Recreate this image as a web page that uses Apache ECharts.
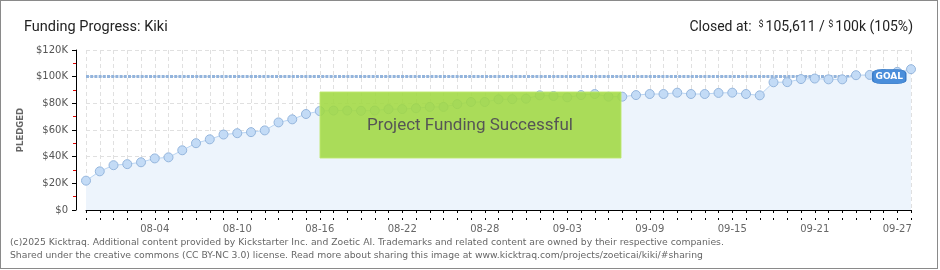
<!DOCTYPE html>
<html><head><meta charset="utf-8">
<script src="https://cdn.jsdelivr.net/npm/echarts@6/dist/echarts.min.js"></script>
<style>
html,body{margin:0;padding:0;background:#fff}
#wrap{position:relative;width:940px;height:270px}
#c{width:940px;height:270px}
#b{position:absolute;left:0;top:0;width:938px;height:269px;box-sizing:border-box;border:1px solid #8a8a8a;pointer-events:none}
</style>
</head><body>
<div id="wrap"><div id="c"></div><div id="b"></div></div>
<script>
const days = ['07-30','07-31',
 '08-01','08-02','08-03','08-04','08-05','08-06','08-07','08-08','08-09','08-10',
 '08-11','08-12','08-13','08-14','08-15','08-16','08-17','08-18','08-19','08-20',
 '08-21','08-22','08-23','08-24','08-25','08-26','08-27','08-28','08-29','08-30','08-31',
 '09-01','09-02','09-03','09-04','09-05','09-06','09-07','09-08','09-09','09-10',
 '09-11','09-12','09-13','09-14','09-15','09-16','09-17','09-18','09-19','09-20',
 '09-21','09-22','09-23','09-24','09-25','09-26','09-27','09-28'];
const pledged = [22000,29000,33600,34400,35800,38700,39500,44800,50100,53000,
 56600,57600,58400,59700,65700,68000,72000,74200,74600,74600,
 74400,74600,75600,75700,76300,77300,77300,79400,81000,81000,
 83000,83100,83500,86000,85500,84500,86200,87000,85000,85000,
 86200,87000,87000,88000,87000,87000,87800,88000,87000,86000,
 95800,95900,98200,98600,98000,98000,101100,101300,102000,103600,105611];
const goal = 100000;
const goalLabelDay = '09-27';
const xLabelDays = ['08-04','08-10','08-16','08-22','08-28','09-03','09-09','09-15','09-21','09-27'];
const yTickLabels = {0:'$0',20000:'$20K',40000:'$40K',60000:'$60K',80000:'$80K',100000:'$100K',120000:'$120K'};
const titleText = 'Funding Progress: Kiki';
const closedText = ['Closed at:  ','$','105,611 / ','$','100k (105%)'];
const successText = 'Project Funding Successful';
const footer1 = '(c)2025 Kicktraq. Additional content provided by Kickstarter Inc. and Zoetic AI. Trademarks and related content are owned by their respective companies.';
const footer2 = 'Shared under the creative commons (CC BY-NC 3.0) license. Read more about sharing this image at www.kicktraq.com/projects/zoeticai/kiki/#sharing';

const chart = echarts.init(document.getElementById('c'), null, {renderer:'canvas'});
const pixFont = 'DejaVu Sans';
const option = {
  animation:false,
  title:[
    {text:titleText,left:19,top:15,textStyle:{fontFamily:'Roboto',fontSize:14.5,fontWeight:'normal',color:'#222'}},
    {text:'{a|'+closedText[0]+'}{s|'+closedText[1]+'}{a|'+closedText[2]+'}{s|'+closedText[3]+'}{a|'+closedText[4]+'}',
     right:22,top:15,
     textStyle:{fontWeight:'normal',rich:{
       a:{fontFamily:'Roboto',fontSize:14,color:'#222',fontWeight:'normal'},
       s:{fontFamily:'Roboto',fontSize:9,color:'#222',fontWeight:'normal',verticalAlign:'top',padding:[0,2,6,0]}
     }}}
  ],
  grid:{left:86,right:29,top:50,bottom:60,containLabel:false},
  xAxis:[{
    type:'category',data:days,boundaryGap:false,offset:10,
    axisLine:{lineStyle:{color:'#000',width:1}},
    axisTick:{show:true,interval:0,length:3,lineStyle:{color:'#000'}},
    axisLabel:{interval:(i,v)=>xLabelDays.indexOf(v)>=0,margin:4,color:'#666',fontFamily:pixFont,fontSize:10},
    splitLine:{show:true,interval:0,lineStyle:{color:'#e0e0e0',type:[4,3]}}
  },{
    type:'category',data:days,boundaryGap:false,offset:10,position:'bottom',
    axisLine:{show:false},
    axisTick:{show:true,inside:true,interval:0,length:2,lineStyle:{color:'#000'}},
    axisLabel:{show:false},splitLine:{show:false}
  }],
  yAxis:{
    type:'value',min:0,max:120000,interval:20000,offset:10,
    name:'PLEDGED',nameLocation:'middle',nameGap:46,nameRotate:90,
    nameTextStyle:{color:'#666',fontFamily:pixFont,fontSize:8.5,fontWeight:'bold'},
    axisLine:{show:true,lineStyle:{color:'#000'}},
    axisTick:{show:true,length:4,lineStyle:{color:'#000'}},
    minorTick:{show:true,splitNumber:2,length:3,lineStyle:{color:'#e00000'}},
    axisLabel:{margin:8,color:'#555',fontFamily:pixFont,fontSize:10,formatter:v=>yTickLabels[v]},
    splitLine:{show:true,lineStyle:{color:'#e0e0e0',type:[4,3]}}
  },
  series:[{
    type:'line',data:pledged,
    symbol:'circle',symbolSize:9,
    itemStyle:{color:'#c3dbf6',borderColor:'#95b6dd',borderWidth:1},
    lineStyle:{color:'#b9d4f2',width:1},
    areaStyle:{color:'#edf4fc',opacity:1},
    z:3,
    markLine:{
      silent:true,symbol:'none',z:2,
      lineStyle:{color:'#93b4dc',width:3,type:[3,1.2]},
      label:{show:false},
      data:[{yAxis:goal}]
    },
    markPoint:{
      silent:true,z:10,
      symbol:'roundRect',symbolSize:[33,14],symbolOffset:[-8,0],
      itemStyle:{color:'#4a8edb',borderColor:'#3a7cc8',borderWidth:1},
      label:{show:true,formatter:'GOAL',color:'#fff',fontFamily:pixFont,fontSize:9,fontWeight:'bold'},
      data:[{coord:[goalLabelDay,goal]}]
    }
  }],
  graphic:[
    {type:'rect',z:20,shape:{x:320,y:92,width:301,height:66},
     style:{fill:'rgba(160,216,66,0.88)',stroke:'rgba(190,232,110,0.9)',lineWidth:1}},
    {type:'text',z:21,style:{text:successText,x:470,y:126,textAlign:'center',textVerticalAlign:'middle',
      font:'17px Roboto',fill:'#555',shadowColor:'#ffffff',shadowOffsetX:1,shadowOffsetY:1,shadowBlur:0}},
    {type:'text',z:5,style:{text:footer1,x:10,y:243,textVerticalAlign:'middle',font:'9.25px "DejaVu Sans"',fill:'#666'}},
    {type:'text',z:5,style:{text:footer2,x:10,y:256,textVerticalAlign:'middle',font:'9.25px "DejaVu Sans"',fill:'#666'}}
  ]
};
chart.setOption(option);
</script>
</body></html>
